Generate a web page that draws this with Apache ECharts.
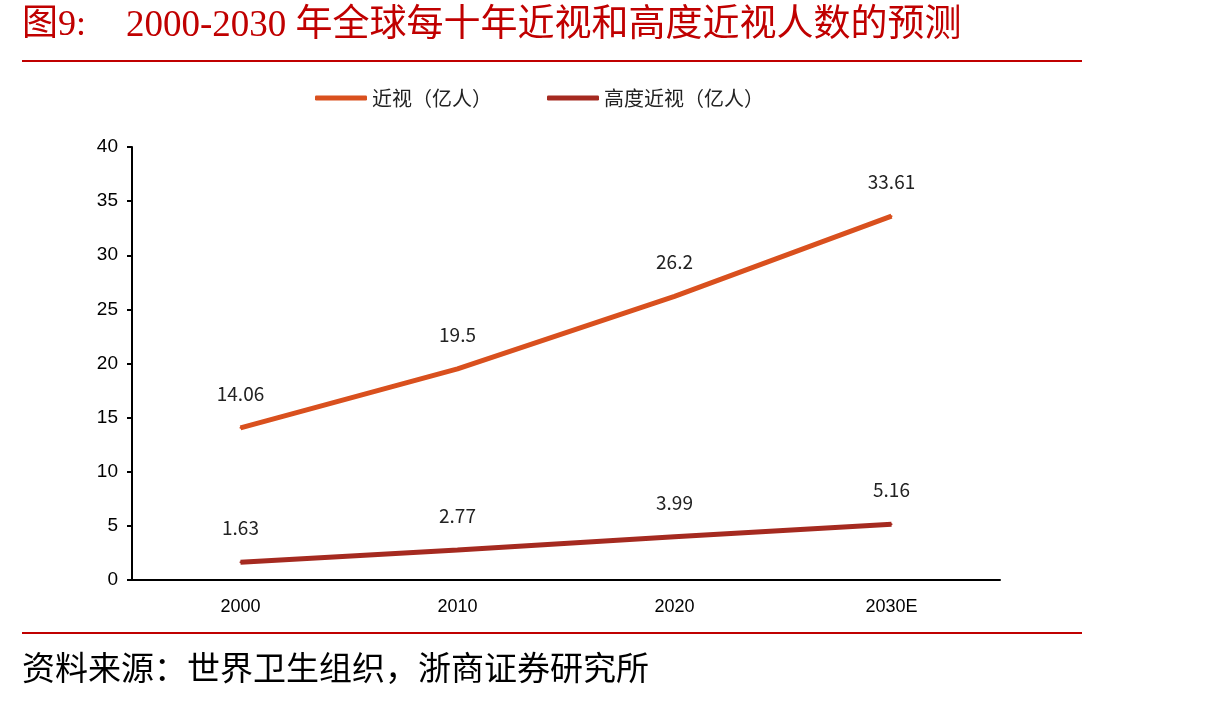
<!DOCTYPE html>
<html><head><meta charset="utf-8">
<script src="https://cdn.jsdelivr.net/npm/echarts@6/dist/echarts.min.js"></script>
<style>html,body{margin:0;padding:0;background:#fff}#c{width:1210px;height:702px}</style>
</head><body><div id="c"></div>
<script>
const categories = ['2000', '2010', '2020', '2030E'];
const myopia = [14.06, 19.5, 26.2, 33.61];
const highMyopia = [1.63, 2.77, 3.99, 5.16];
const seriesNames = ['近视（亿人）', '高度近视（亿人）'];
const titlePrefix = '图9:';
const titleText = '2000-2030 年全球每十年近视和高度近视人数的预测';
const sourceText = '资料来源：世界卫生组织，浙商证券研究所';

const chart = echarts.init(document.getElementById('c'));
const labelStyle = {show: true, position: 'top', distance: 24, fontSize: 19, color: '#222', fontFamily: 'Noto Sans CJK SC'};
chart.setOption({
  animation: false,
  backgroundColor: '#fff',
  graphic: [
    {type: 'text', left: 22, top: 8, style: {text: titlePrefix, fill: '#C00000', font: '36px "Liberation Serif", "Noto Sans CJK SC", serif'}},
    {type: 'text', left: 126, top: 8, style: {text: titleText, fill: '#C00000', font: '37px "Liberation Serif", "Noto Sans CJK SC", serif'}},
    {type: 'rect', shape: {x: 22, y: 60, width: 1060, height: 2}, style: {fill: '#C00000'}},
    {type: 'rect', shape: {x: 22, y: 632, width: 1060, height: 2}, style: {fill: '#C00000'}},
    {type: 'text', left: 22, top: 651, style: {text: sourceText, fill: '#000', font: '33px "Noto Sans CJK SC", serif'}}
  ],
  legend: {
    top: 83, left: 310, itemWidth: 52, itemHeight: 5, itemGap: 55,
    textStyle: {fontSize: 20, color: '#222', fontFamily: 'Noto Sans CJK SC'},
    icon: 'roundRect',
    data: seriesNames
  },
  grid: {left: 132, right: 210, top: 147, bottom: 122},
  xAxis: {
    type: 'category', data: categories, boundaryGap: true,
    axisLine: {lineStyle: {color: '#000', width: 2}},
    axisTick: {show: false},
    axisLabel: {color: '#000', fontSize: 18, margin: 18, fontFamily: 'Liberation Sans'}
  },
  yAxis: {
    type: 'value', min: 0, max: 40, interval: 5,
    axisLine: {show: true, lineStyle: {color: '#000', width: 2}},
    axisTick: {show: true, length: 5, lineStyle: {color: '#000', width: 2}},
    splitLine: {show: false},
    axisLabel: {color: '#000', fontSize: 19, margin: 14, fontFamily: 'Liberation Sans'}
  },
  series: [
    {name: seriesNames[0], type: 'line', data: myopia, symbol: 'circle', symbolSize: 2, showSymbol: true, lineStyle: {width: 5, color: '#D9501E'}, itemStyle: {color: '#D9501E'}, label: labelStyle},
    {name: seriesNames[1], type: 'line', data: highMyopia, symbol: 'circle', symbolSize: 2, showSymbol: true, lineStyle: {width: 5, color: '#A52A20'}, itemStyle: {color: '#A52A20'}, label: labelStyle}
  ]
});
</script></body></html>
